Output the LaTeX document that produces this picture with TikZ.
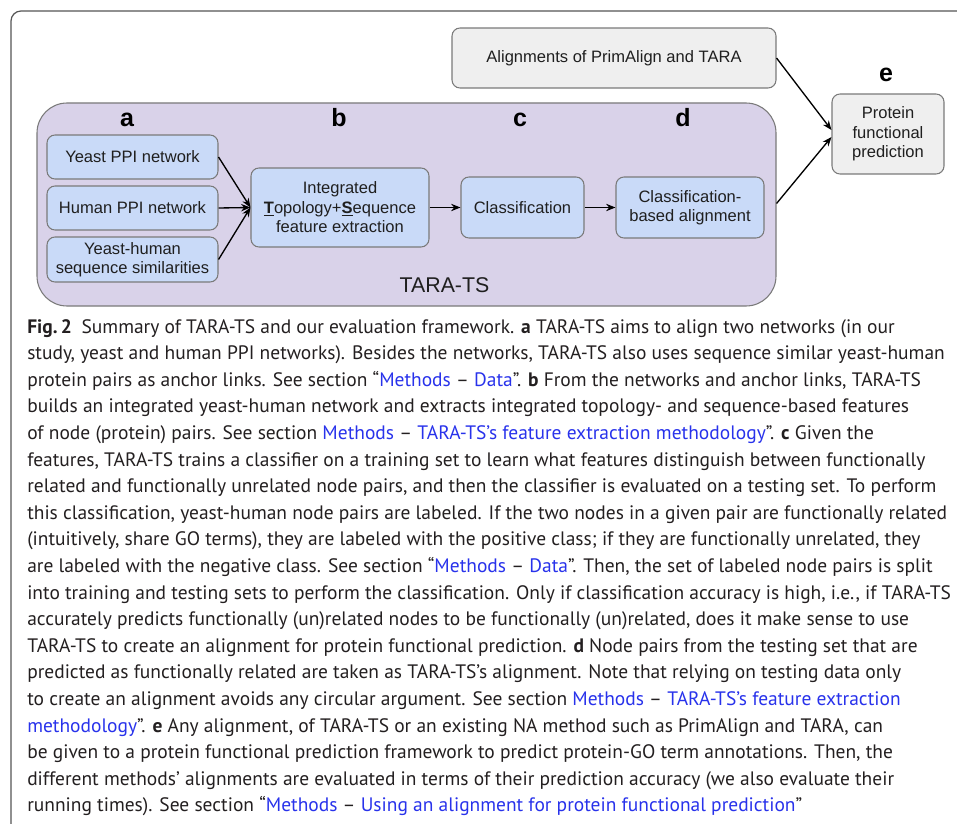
\documentclass[tikz,border=0pt]{standalone}
\usepackage{fontspec}
\setmainfont{Liberation Sans}
\newfontfamily\capfont{PT Sans}
\usetikzlibrary{arrows.meta,calc}
\definecolor{boxblue}{HTML}{C9DAF8}
\definecolor{boxpurple}{HTML}{D9D2E9}
\definecolor{boxgray}{HTML}{EFEFEF}
\definecolor{edgegray}{HTML}{7A7A7A}
\definecolor{framegray}{HTML}{555555}
\definecolor{captext}{HTML}{231F20}
\definecolor{linkblue}{RGB}{40,50,235}
\newcommand{\lk}[1]{\textcolor{linkblue}{#1}}
\begin{document}
\begin{tikzpicture}[x=0.75pt,y=-0.75pt,
  boxbase/.style={draw=edgegray, line width=0.8pt, rounded corners=6pt, align=center,
    inner sep=0pt, text=black!88, font=\fontsize{12.4}{14.6}\selectfont},
  bluebox/.style={boxbase, fill=boxblue},
  graybox/.style={boxbase, fill=boxgray},
  steplabel/.style={font=\fontsize{18.75}{20}\selectfont\bfseries, anchor=base, inner sep=0pt},
  arr/.style={line width=1pt, -{Stealth[length=7pt,width=5.5pt]}},
  capline/.style={anchor=base west, inner sep=0pt, text=captext,
    font=\capfont\fontsize{14.6}{16}\selectfont}
]
\useasboundingbox (0,0) rectangle (957,824);
\clip (0,0) rectangle (957,824);
\draw[framegray, line width=0.9pt, rounded corners=7.5pt] (11,11) rectangle (990,860);

% TARA-TS container
\node[draw=edgegray, line width=0.8pt, fill=boxpurple, rounded corners=22.5pt,
  minimum width=554.25pt, minimum height=152.25pt, inner sep=0pt] (tara) at (406.5,204.5) {};
\node[anchor=base, inner sep=0pt, font=\fontsize{16}{18}\selectfont, text=black!88] (taralbl) at (444.5,292) {TARA-TS};

% step labels
\node[steplabel] (la) at (127,127) {a};
\node[steplabel] (lb) at (339,127) {b};
\node[steplabel] (lc) at (520,127) {c};
\node[steplabel] (ld) at (683,127) {d};
\node[steplabel] (le) at (886,81.5) {e};

% boxes
\node[bluebox, minimum width=128.25pt, minimum height=33pt] (yeast) at (132.5,157) {Yeast PPI network};
\node[bluebox, minimum width=128.25pt, minimum height=33pt] (human) at (132.5,208) {Human PPI network};
\node[bluebox, minimum width=128.25pt, minimum height=33.75pt] (simil) at (132.5,259.5) {Yeast-human\\sequence similarities};
\node[bluebox, minimum width=133.5pt, minimum height=59.25pt] (integ) at (340,207.5)
  {Integrated\\\underline{\textbf{T}}opology+\underline{\textbf{S}}equence\\feature extraction};
\node[bluebox, minimum width=92.25pt, minimum height=45.75pt] (cls) at (522.5,207.5) {Classification};
\node[bluebox, minimum width=111pt, minimum height=45.75pt] (cba) at (690,207.5) {Classification-\\based alignment};
\node[graybox, minimum width=243pt, minimum height=45pt] (aligns) at (614,58) {Alignments of PrimAlign and TARA};
\node[graybox, minimum width=84pt, minimum height=60pt] (pfp) at (888,134) {Protein\\functional\\prediction};

% connectors
\draw[arr] (yeast.east) -- (integ.west);
\draw[arr] (human.east) -- (integ.west);
\draw[arr] (simil.east) -- (integ.west);
\draw[arr] (integ.east) -- (cls.west);
\draw[arr] (cls.east) -- (cba.west);
\draw[arr] (aligns.east) -- ($(pfp.west)+(0,-4)$);
\draw[arr] ($(tara.east |- cba.east)+(0,-4)$) -- ($(pfp.west)+(0,3)$);

% caption
\node[capline] (c1) at (27,333.0) {{\bfseries Fig.\,2}\enspace Summary of TARA-TS and our evaluation framework. \textbf{a} TARA-TS aims to align two networks (in our};
\node[capline] (c2) at (27,359.6) {study, yeast and human PPI networks). Besides the networks, TARA-TS also uses sequence similar yeast-human};
\node[capline] (c3) at (27,386.2) {protein pairs as anchor links. See section “\lk{Methods} – \lk{Data}”. \textbf{b} From the networks and anchor links, TARA-TS};
\node[capline] (c4) at (27,412.8) {builds an integrated yeast-human network and extracts integrated topology- and sequence-based features};
\node[capline] (c5) at (27,439.4) {of node (protein) pairs. See section \lk{Methods} – \lk{TARA-TS’s feature extraction methodology}”. \textbf{c} Given the};
\node[capline] (c6) at (27,466.0) {features, TARA-TS trains a classifier on a training set to learn what features distinguish between functionally};
\node[capline] (c7) at (27,492.6) {related and functionally unrelated node pairs, and then the classifier is evaluated on a testing set. To perform};
\node[capline] (c8) at (27,519.2) {this classification, yeast-human node pairs are labeled. If the two nodes in a given pair are functionally related};
\node[capline] (c9) at (27,545.8) {(intuitively, share GO terms), they are labeled with the positive class; if they are functionally unrelated, they};
\node[capline] (c10) at (27,572.4) {are labeled with the negative class. See section “\lk{Methods} – \lk{Data}”. Then, the set of labeled node pairs is split};
\node[capline] (c11) at (27,599.0) {into training and testing sets to perform the classification. Only if classification accuracy is high, i.e., if TARA-TS};
\node[capline] (c12) at (27,625.6) {accurately predicts functionally (un)related nodes to be functionally (un)related, does it make sense to use};
\node[capline] (c13) at (27,652.2) {TARA-TS to create an alignment for protein functional prediction. \textbf{d} Node pairs from the testing set that are};
\node[capline] (c14) at (27,678.8) {predicted as functionally related are taken as TARA-TS’s alignment. Note that relying on testing data only};
\node[capline] (c15) at (27,705.4) {to create an alignment avoids any circular argument. See section \lk{Methods} – \lk{TARA-TS’s feature extraction}};
\node[capline] (c16) at (27,732.0) {\lk{methodology}”. \textbf{e} Any alignment, of TARA-TS or an existing NA method such as PrimAlign and TARA, can};
\node[capline] (c17) at (27,758.6) {be given to a protein functional prediction framework to predict protein-GO term annotations. Then, the};
\node[capline] (c18) at (27,785.2) {different methods’ alignments are evaluated in terms of their prediction accuracy (we also evaluate their};
\node[capline] (c19) at (27,811.8) {running times). See section “\lk{Methods} – \lk{Using an alignment for protein functional prediction}”};
\end{tikzpicture}
\end{document}
